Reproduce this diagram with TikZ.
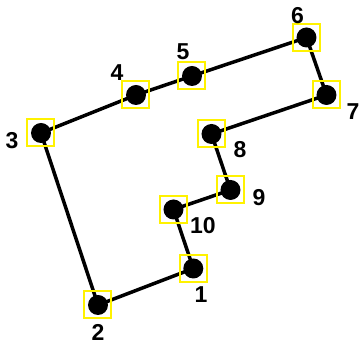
\documentclass[tikz,border=0pt]{standalone}
\usepackage{fontspec}
\setmainfont{Liberation Sans}
\usetikzlibrary{backgrounds}

\tikzset{
  waypt/.style={draw=yellow, line width=2pt, minimum size=27pt, inner sep=0pt,
    path picture={\fill[black] (path picture bounding box.center) circle (10pt);}},
  ptlabel/.style={font=\fontsize{23}{23}\selectfont\bfseries, inner sep=0pt},
  route/.style={line width=3.5pt}
}

\begin{document}
\begin{tikzpicture}[x=1pt,y=-1pt]
    \useasboundingbox (0,0) rectangle (360,344);

    \node[waypt] (p1) at (193.3,268.5) {};
    \node[waypt] (p2) at (98,305) {};
    \node[waypt] (p3) at (41,133) {};
    \node[waypt] (p4) at (136,95) {};
    \node[waypt] (p5) at (192,76) {};
    \node[waypt] (p6) at (306.5,37.5) {};
    \node[waypt] (p7) at (326.5,95) {};
    \node[waypt] (p8) at (211.5,134) {};
    \node[waypt] (p9) at (230.5,190) {};
    \node[waypt] (p10) at (173.5,209.5) {};

    \node[ptlabel] (l1) at (201,295) {1};
    \node[ptlabel] (l2) at (98,332) {2};
    \node[ptlabel] (l3) at (12,141) {3};
    \node[ptlabel] (l4) at (117,73) {4};
    \node[ptlabel] (l5) at (183,52) {5};
    \node[ptlabel] (l6) at (297.5,16) {6};
    \node[ptlabel] (l7) at (353,112) {7};
    \node[ptlabel] (l8) at (240,150) {8};
    \node[ptlabel] (l9) at (259,198) {9};
    \node[ptlabel] (l10) at (203,226) {10};

    % the closed tour, under the markers
    \begin{scope}[on background layer]
      \draw[route] (p1.center) -- (p2.center) -- (p3.center) -- (p4.center)
        -- (p5.center) -- (p6.center) -- (p7.center) -- (p8.center)
        -- (p9.center) -- (p10.center) -- cycle;
    \end{scope}
\end{tikzpicture}
\end{document}
